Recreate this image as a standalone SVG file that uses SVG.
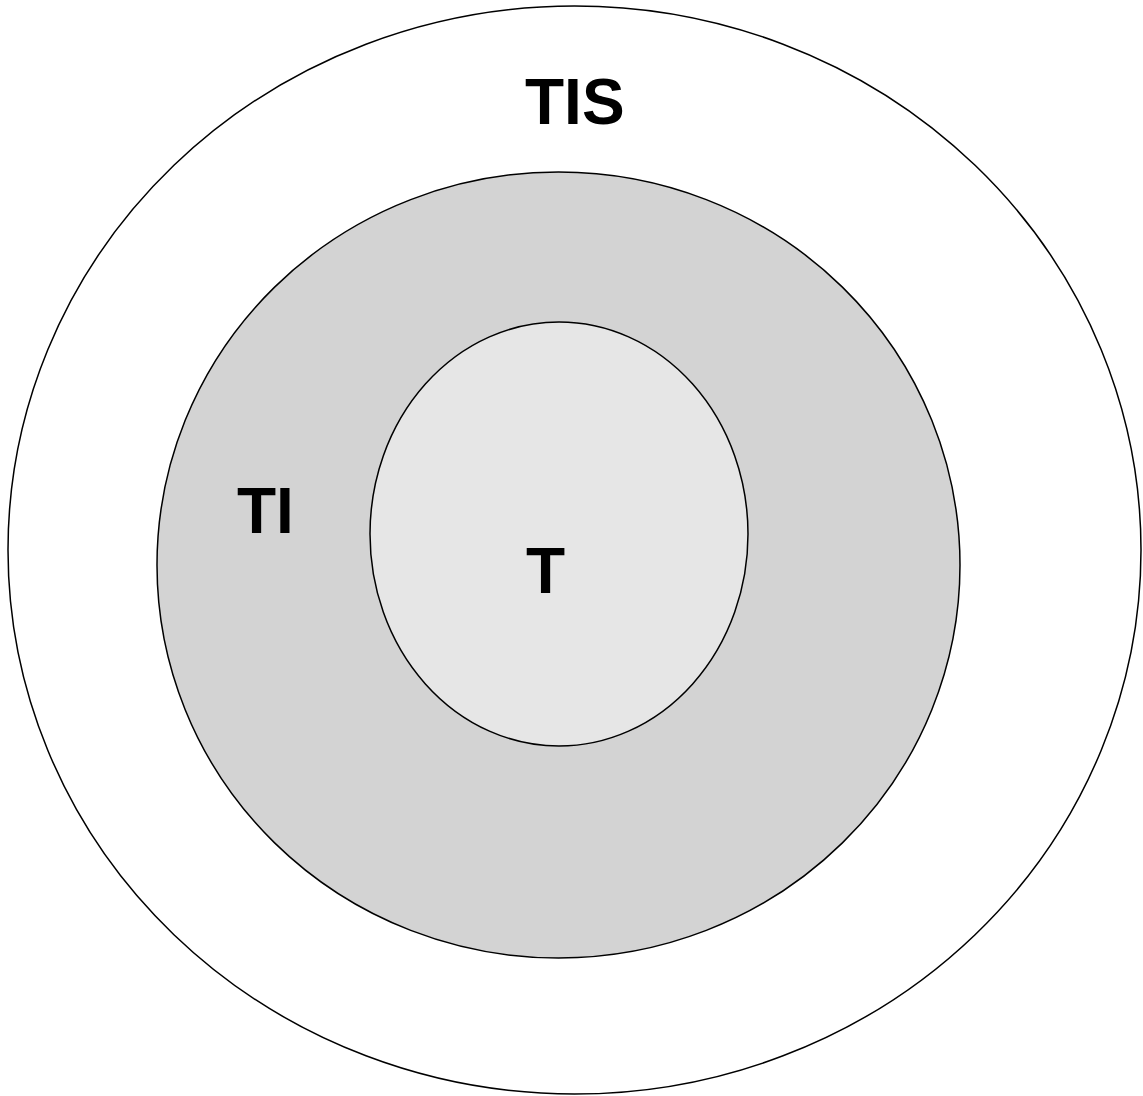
<svg xmlns="http://www.w3.org/2000/svg" width="1143" height="1096" viewBox="0 0 1143 1096">
<style>
.e{stroke:#000;stroke-width:1.5}
.l{font-family:"Liberation Sans",Arial,sans-serif;font-weight:bold;font-size:64px;fill:#000}
</style>
<rect width="1143" height="1096" fill="#fff"/>
<g id="TIS"><ellipse class="e" cx="574.5" cy="550" rx="566.5" ry="544" fill="#fff"/><text class="l" x="525" y="124">TIS</text></g>
<g id="TI"><ellipse class="e" cx="558.5" cy="565" rx="401.5" ry="393" fill="#d3d3d3"/><text class="l" x="237" y="533">TI</text></g>
<g id="T"><ellipse class="e" cx="559" cy="534" rx="189" ry="212" fill="#e6e6e6"/><text class="l" x="526" y="593">T</text></g>
<g id="connectors"/>
</svg>
